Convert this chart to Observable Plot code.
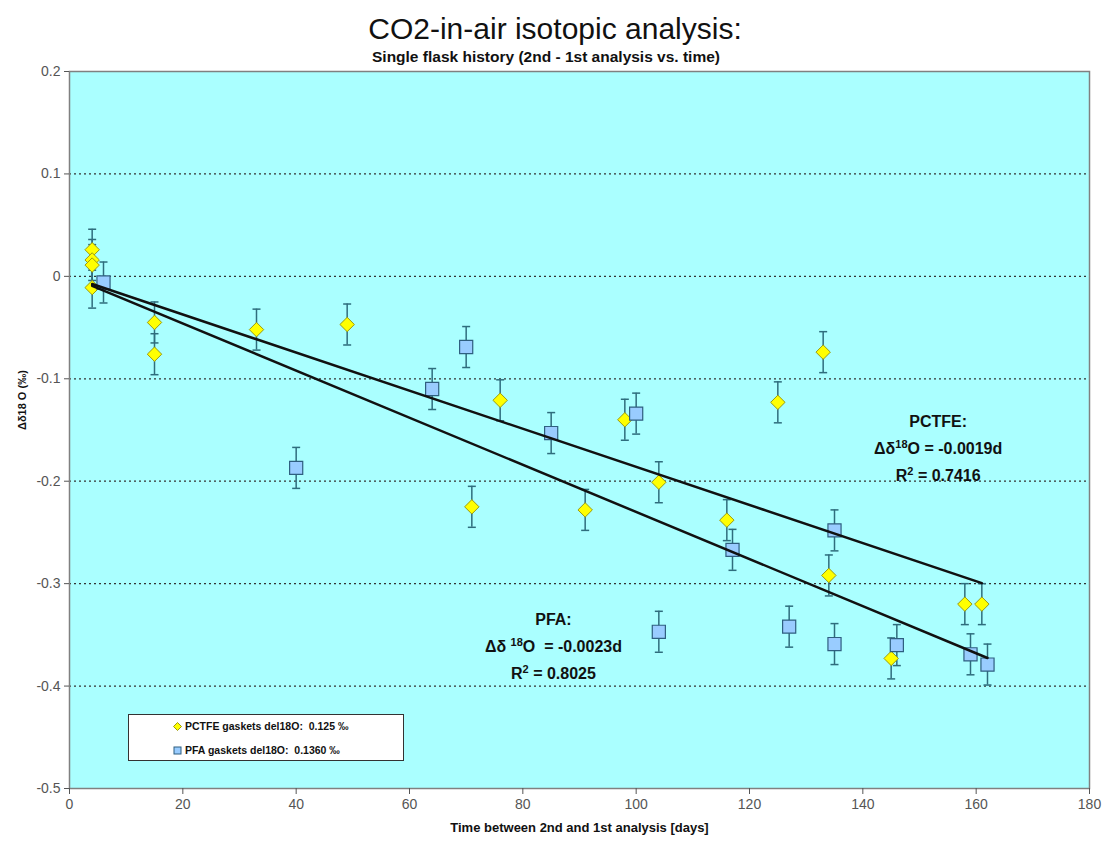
<!DOCTYPE html>
<html>
<head>
<meta charset="utf-8">
<script src="https://cdn.jsdelivr.net/npm/d3@7"></script>
<script src="https://cdn.jsdelivr.net/npm/@observablehq/plot@0.6"></script>
<style>
  html, body { margin: 0; padding: 0; background: #fff; }
  body { width: 1102px; height: 841px; position: relative; font-family: "Liberation Sans", Arial, sans-serif; overflow: hidden; }
  #head { height: 60px; position: relative; }
  #title { position: absolute; left: 0; width: 1110px; top: 12px; text-align: center; font-size: 30px; color: #111; }
  #subtitle { position: absolute; left: 0; width: 1092px; top: 48px; text-align: center; font-size: 15.5px; font-weight: bold; color: #111; }
  #legend { position: absolute; left: 128px; top: 714px; width: 276px; height: 47px; background: #fff; border: 1px solid #333; box-sizing: border-box; font-size: 10.5px; font-weight: bold; color: #111; }
  #legend .row { position: absolute; left: 44px; display: flex; align-items: center; gap: 3px; white-space: pre; }
  #chart svg { display: block; }
</style>
</head>
<body>
<div id="head">
  <div id="title">CO2-in-air isotopic analysis:</div>
  <div id="subtitle">Single flask history (2nd - 1st analysis vs. time)</div>
</div>
<div id="chart"></div>
<div id="legend"></div>
<script>
// ---- data ----
const pctfeDays = [4, 4, 4, 4, 15, 15, 33, 49, 71, 76, 91, 98, 104, 116, 125, 133, 134, 145, 158, 161];
const pctfeVals = [0.026, 0.016, 0.011, -0.011, -0.045, -0.076, -0.052, -0.047, -0.225, -0.121, -0.228, -0.140, -0.201, -0.238, -0.123, -0.074, -0.292, -0.373, -0.320, -0.320];
const pfaDays = [6, 40, 64, 70, 85, 100, 104, 117, 127, 135, 135, 146, 159, 162];
const pfaVals = [-0.006, -0.187, -0.110, -0.069, -0.153, -0.134, -0.347, -0.267, -0.342, -0.248, -0.359, -0.360, -0.369, -0.379];
const errHalf = 0.02;

const seriesNames = ["PCTFE", "PFA"];
const trendSlopes = [-0.00186, -0.0023];
const trendStart = [4, 4];
const trendEnd = [161, 162];

const legendLabels = ["PCTFE gaskets del18O:  0.125 \u2030", "PFA gaskets del18O:  0.1360 \u2030"];
const annotationTexts = [
  "PCTFE:\n\u0394\u03b4\u00b9\u2078O = -0.0019d\nR\u00b2 = 0.7416",
  "PFA:\n\u0394\u03b4 \u00b9\u2078O  = -0.0023d\nR\u00b2 = 0.8025"
];
const annotationDays = [153.3, 85.4];
const annotationVals = [-0.165, -0.358];

const xTicks = [0, 20, 40, 60, 80, 100, 120, 140, 160, 180];
const yTicks = [0.2, 0.1, 0, -0.1, -0.2, -0.3, -0.4, -0.5];
const gridTicks = [0.1, 0, -0.1, -0.2, -0.3, -0.4];
const xLabel = "Time between 2nd and 1st analysis [days]";
const yLabel = "\u0394\u03b418 O (\u2030)";

// ---- build tables ----
const pctfe = pctfeDays.map((d, i) => ({x: d, y: pctfeVals[i]}));
const pfa = pfaDays.map((d, i) => ({x: d, y: pfaVals[i]}));
const trends = seriesNames.flatMap((s, i) => [
  {series: s, x: trendStart[i], y: trendSlopes[i] * trendStart[i]},
  {series: s, x: trendEnd[i], y: trendSlopes[i] * trendEnd[i]}
]);
const annotations = annotationTexts.map((t, i) => ({text: t, x: annotationDays[i], y: annotationVals[i]}));

const capSymbol = {
  draw(ctx, size) {
    const r = Math.sqrt(size / Math.PI);
    ctx.moveTo(-r, 0); ctx.lineTo(r, 0);
  }
};

const fill = "#aaffff";
const errColor = "#2f6d7d";
const diamondFill = "#ffff00", diamondStroke = "#9a9a10";
const squareFill = "#99ccff", squareStroke = "#2f5f80";

function errMarks(data) {
  return [
    Plot.ruleX(data, {x: "x", y1: d => d.y - errHalf, y2: d => d.y + errHalf, stroke: errColor, strokeWidth: 1.5}),
    Plot.dot(data, {x: "x", y: d => d.y + errHalf, symbol: capSymbol, r: 4, stroke: errColor, strokeWidth: 1.5, fill: "none"}),
    Plot.dot(data, {x: "x", y: d => d.y - errHalf, symbol: capSymbol, r: 4, stroke: errColor, strokeWidth: 1.5, fill: "none"})
  ];
}

const chart = Plot.plot({
  width: 1102,
  height: 781,
  marginTop: 11,
  marginLeft: 69,
  marginRight: 13,
  marginBottom: 53,
  style: {fontFamily: "'Liberation Sans', Arial, sans-serif", background: "transparent"},
  x: {domain: [0, 180]},
  y: {domain: [-0.5, 0.2]},
  marks: [
    Plot.frame({fill: fill, stroke: "none"}),
    Plot.ruleY(gridTicks, {stroke: "#333", strokeWidth: 1.2, strokeDasharray: "2,3"}),
    ...errMarks(pctfe),
    ...errMarks(pfa),
    Plot.dot(pctfe, {x: "x", y: "y", symbol: "diamond2", r: 6.5, fill: diamondFill, stroke: diamondStroke, strokeWidth: 1}),
    Plot.dot(pfa, {x: "x", y: "y", symbol: "square", r: 7.4, fill: squareFill, stroke: squareStroke, strokeWidth: 1.2}),
    Plot.line(trends, {x: "x", y: "y", z: "series", stroke: "#111", strokeWidth: 2.5}),
    Plot.text(annotations, {x: "x", y: "y", text: "text", fontSize: 16, fontWeight: "bold", fill: "#111", lineHeight: 1.7}),
    Plot.frame({stroke: "#808080", strokeWidth: 1.5}),
    Plot.axisX({ticks: xTicks, tickSize: 6, tickPadding: 5, tickFormat: d => String(d), label: null, fontSize: 14, color: "#555"}),
    Plot.axisY({ticks: yTicks, tickSize: 5, tickPadding: 4, tickFormat: d => d === 0 ? "0" : String(+d.toFixed(1)), label: null, fontSize: 14, color: "#555"}),
    Plot.text([xLabel], {frameAnchor: "bottom", dy: 43, fontSize: 13, fontWeight: "bold", fill: "#111"}),
    Plot.text([yLabel], {frameAnchor: "left", dx: -47, rotate: -90, fontSize: 11, fontWeight: "bold", fill: "#111"})
  ]
});
document.getElementById("chart").appendChild(chart);

// raise superscript digits in the annotation texts
const supMap = {"\u00b9": "1", "\u2078": "8", "\u00b2": "2"};
const supRe = /[\u00b9\u2078\u00b2]+/g;
const NS = "http://www.w3.org/2000/svg";
chart.querySelectorAll("text").forEach(t => {
  const lines = t.querySelectorAll("tspan");
  const targets = lines.length ? Array.from(lines) : [t];
  targets.forEach(el => {
    const s = el.textContent;
    if (!/[\u00b9\u2078\u00b2]/.test(s)) return;
    el.textContent = "";
    let last = 0, m, shifted = false;
    supRe.lastIndex = 0;
    while ((m = supRe.exec(s))) {
      if (m.index > last) {
        const seg = document.createElementNS(NS, "tspan");
        if (shifted) { seg.setAttribute("dy", "6"); shifted = false; }
        seg.textContent = s.slice(last, m.index);
        el.appendChild(seg);
      }
      const sup = document.createElementNS(NS, "tspan");
      sup.setAttribute("dy", "-6");
      sup.setAttribute("font-size", "11");
      sup.textContent = m[0].split("").map(c => supMap[c]).join("");
      el.appendChild(sup);
      shifted = true;
      last = m.index + m[0].length;
    }
    if (last < s.length) {
      const seg = document.createElementNS(NS, "tspan");
      if (shifted) seg.setAttribute("dy", "6");
      seg.textContent = s.slice(last);
      el.appendChild(seg);
    }
  });
});

// legend
const legend = document.getElementById("legend");
const shapes = [
  `<svg width="9" height="9" viewBox="-4.5 -4.5 9 9"><path d="M0,-4L4,0L0,4L-4,0Z" fill="${diamondFill}" stroke="${diamondStroke}" stroke-width="1"/></svg>`,
  `<svg width="9" height="9" viewBox="-4.5 -4.5 9 9"><rect x="-3.5" y="-3.5" width="7" height="7" fill="${squareFill}" stroke="${squareStroke}" stroke-width="1"/></svg>`
];
legendLabels.forEach((lab, i) => {
  const row = document.createElement("div");
  row.className = "row";
  row.style.top = (i === 0 ? 5 : 29) + "px";
  row.innerHTML = shapes[i] + `<span>${lab}</span>`;
  legend.appendChild(row);
});
</script>
</body>
</html>
